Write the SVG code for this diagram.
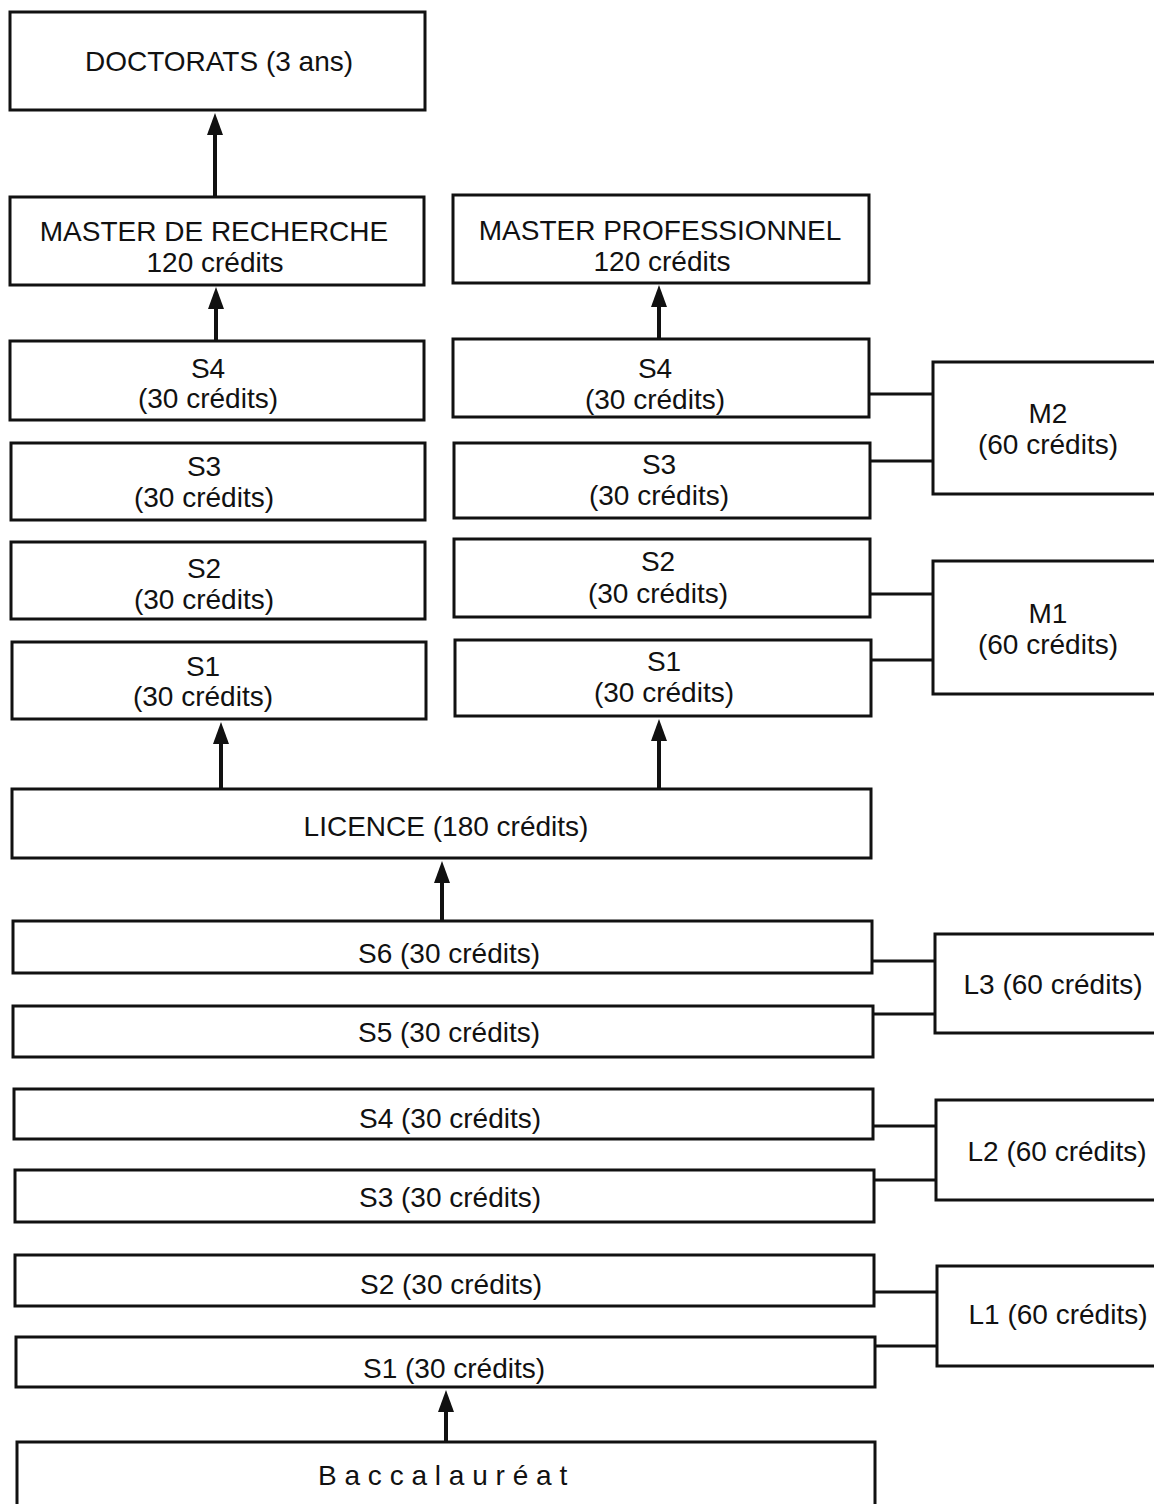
<svg xmlns="http://www.w3.org/2000/svg" width="1154" height="1504" viewBox="0 0 1154 1504">
<defs>
<style>
.box{fill:#fff;stroke:#111;stroke-width:3}
.t{font-family:"Liberation Sans",Arial,sans-serif;font-size:28px;fill:#111;text-anchor:middle}
.c{stroke:#111;stroke-width:3;fill:none}
.a{stroke:#111;stroke-width:4;fill:none}
</style>
<marker id="ah" viewBox="0 0 22 16" refX="0" refY="8" markerWidth="22" markerHeight="16" markerUnits="userSpaceOnUse" orient="auto">
<path d="M0,0 L22,8 L0,16 Z" fill="#111"/>
</marker>
</defs>
<rect width="1154" height="1504" fill="#fff"/>

<g id="doctorats"><rect class="box" x="10" y="12" width="415" height="98"/><text class="t" x="219" y="71">DOCTORATS (3 ans)</text></g>
<g id="master-recherche"><rect class="box" x="10" y="197" width="414" height="88"/><text class="t" x="214" y="241">MASTER DE RECHERCHE</text><text class="t" x="215" y="272">120 crédits</text></g>
<g id="master-pro"><rect class="box" x="453" y="195" width="416" height="88"/><text class="t" x="660" y="240">MASTER PROFESSIONNEL</text><text class="t" x="662" y="271">120 crédits</text></g>

<g id="mr-s4"><rect class="box" x="10" y="341" width="414" height="79"/><text class="t" x="208" y="378">S4</text><text class="t" x="208" y="408">(30 crédits)</text></g>
<g id="mr-s3"><rect class="box" x="11" y="443" width="414" height="77"/><text class="t" x="204" y="476">S3</text><text class="t" x="204" y="507">(30 crédits)</text></g>
<g id="mr-s2"><rect class="box" x="11" y="542" width="414" height="77"/><text class="t" x="204" y="578">S2</text><text class="t" x="204" y="609">(30 crédits)</text></g>
<g id="mr-s1"><rect class="box" x="12" y="642" width="414" height="77"/><text class="t" x="203" y="676">S1</text><text class="t" x="203" y="706">(30 crédits)</text></g>

<g id="mp-s4"><rect class="box" x="453" y="339" width="416" height="78"/><text class="t" x="655" y="378">S4</text><text class="t" x="655" y="409">(30 crédits)</text></g>
<g id="mp-s3"><rect class="box" x="454" y="443" width="416" height="75"/><text class="t" x="659" y="474">S3</text><text class="t" x="659" y="505">(30 crédits)</text></g>
<g id="mp-s2"><rect class="box" x="454" y="539" width="416" height="78"/><text class="t" x="658" y="571">S2</text><text class="t" x="658" y="603">(30 crédits)</text></g>
<g id="mp-s1"><rect class="box" x="455" y="640" width="416" height="76"/><text class="t" x="664" y="671">S1</text><text class="t" x="664" y="702">(30 crédits)</text></g>

<g id="m2"><rect class="box" x="933" y="362" width="230" height="132"/><text class="t" x="1048" y="423">M2</text><text class="t" x="1048" y="454">(60 crédits)</text></g>
<g id="m1"><rect class="box" x="933" y="561" width="230" height="133"/><text class="t" x="1048" y="623">M1</text><text class="t" x="1048" y="654">(60 crédits)</text></g>

<g id="licence"><rect class="box" x="12" y="789" width="859" height="69"/><text class="t" x="446" y="836">LICENCE (180 crédits)</text></g>

<g id="l-s6"><rect class="box" x="13" y="921" width="859" height="52"/><text class="t" x="449" y="963">S6 (30 crédits)</text></g>
<g id="l-s5"><rect class="box" x="13" y="1006" width="860" height="51"/><text class="t" x="449" y="1042">S5 (30 crédits)</text></g>
<g id="l-s4"><rect class="box" x="14" y="1089" width="859" height="50"/><text class="t" x="450" y="1128">S4 (30 crédits)</text></g>
<g id="l-s3"><rect class="box" x="15" y="1170" width="859" height="52"/><text class="t" x="450" y="1207">S3 (30 crédits)</text></g>
<g id="l-s2"><rect class="box" x="15" y="1255" width="859" height="51"/><text class="t" x="451" y="1294">S2 (30 crédits)</text></g>
<g id="l-s1"><rect class="box" x="16" y="1337" width="859" height="50"/><text class="t" x="454" y="1378">S1 (30 crédits)</text></g>

<g id="l3"><rect class="box" x="935" y="934" width="230" height="99"/><text class="t" x="1053" y="994">L3 (60 crédits)</text></g>
<g id="l2"><rect class="box" x="936" y="1100" width="230" height="100"/><text class="t" x="1057" y="1161">L2 (60 crédits)</text></g>
<g id="l1"><rect class="box" x="937" y="1266" width="230" height="100"/><text class="t" x="1058" y="1324">L1 (60 crédits)</text></g>

<g id="bac"><rect class="box" x="17" y="1442" width="858" height="70"/><text class="t" x="318" y="1485" style="text-anchor:start;letter-spacing:7.8px">Baccalauréat</text></g>

<g id="connectors">
<line class="a" x1="215" y1="197" x2="215" y2="135" marker-end="url(#ah)"/>
<line class="a" x1="216" y1="341" x2="216" y2="309" marker-end="url(#ah)"/>
<line class="a" x1="659" y1="339" x2="659" y2="307" marker-end="url(#ah)"/>
<line class="a" x1="221" y1="789" x2="221" y2="744" marker-end="url(#ah)"/>
<line class="a" x1="659" y1="789" x2="659" y2="741" marker-end="url(#ah)"/>
<line class="a" x1="442" y1="921" x2="442" y2="883" marker-end="url(#ah)"/>
<line class="a" x1="446" y1="1442" x2="446" y2="1412" marker-end="url(#ah)"/>
<line class="c" x1="869" y1="394" x2="933" y2="394"/>
<line class="c" x1="870" y1="461" x2="933" y2="461"/>
<line class="c" x1="870" y1="594" x2="933" y2="594"/>
<line class="c" x1="871" y1="660" x2="933" y2="660"/>
<line class="c" x1="872" y1="961" x2="935" y2="961"/>
<line class="c" x1="873" y1="1014" x2="935" y2="1014"/>
<line class="c" x1="873" y1="1126" x2="936" y2="1126"/>
<line class="c" x1="874" y1="1180" x2="936" y2="1180"/>
<line class="c" x1="874" y1="1292" x2="937" y2="1292"/>
<line class="c" x1="875" y1="1346" x2="937" y2="1346"/>
</g>
</svg>
